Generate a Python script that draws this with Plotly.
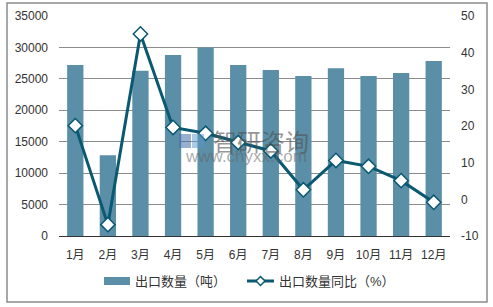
import plotly.graph_objects as go

months = ["1月", "2月", "3月", "4月", "5月", "6月", "7月", "8月", "9月", "10月", "11月", "12月"]
export_qty = [27200, 12850, 26300, 28800, 30000, 27200, 26400, 25450, 26700, 25450, 25950, 27850]
yoy_pct = [20.1, -6.9, 45.1, 19.6, 18.0, 15.5, 13.2, 2.6, 10.6, 9.0, 5.1, -0.8]

left_ticks = [0, 5000, 10000, 15000, 20000, 25000, 30000, 35000]
right_ticks = [-10, 0, 10, 20, 30, 40, 50]
bar_name = "出口数量（吨）"
line_name = "出口数量同比（%）"

bar_color = "#5b8fa7"
line_color = "#0a5872"
font_family = "Liberation Sans, Arial, Noto Sans CJK SC"

W, H = 493, 307
ML, MR, MT, MB = 59, 43, 16, 71
PW, PH = W - ML - MR, H - MT - MB


def px(x):
    return (x - ML) / PW


def py(y):
    return (H - MB - y) / PH


fig = go.Figure()
fig.add_trace(go.Bar(
    x=months, y=export_qty, name=bar_name,
    marker=dict(color=bar_color, line=dict(width=0)),
    width=0.5, yaxis="y", showlegend=False,
))
fig.add_trace(go.Scatter(
    x=months, y=yoy_pct, name=line_name, yaxis="y2",
    mode="lines+markers", showlegend=False,
    line=dict(color=line_color, width=3),
    marker=dict(symbol="diamond", size=11, color="white", line=dict(color=line_color, width=1.5)),
))

fig.update_layout(
    width=W, height=H,
    margin=dict(l=ML, r=MR, t=MT, b=MB),
    paper_bgcolor="white", plot_bgcolor="white",
    font=dict(family=font_family, size=12, color="#333333"),
    xaxis=dict(
        range=[-0.5, len(months) - 0.5],
        showgrid=False, showline=True, linecolor="#333333", linewidth=1,
        ticks="", tickfont=dict(size=12, color="#333333"), automargin=False,
        ticklabelstandoff=8,
    ),
    yaxis=dict(
        range=[0, 35000], tickvals=left_ticks, ticktext=[str(v) for v in left_ticks],
        showgrid=True, gridcolor="#8c8c8c", gridwidth=1, zeroline=False, showline=False,
        ticks="", tickfont=dict(size=12, color="#333333"), ticklabelstandoff=10,
        automargin=False,
    ),
    yaxis2=dict(
        range=[-10, 50], tickvals=right_ticks, ticktext=[str(v) for v in right_ticks],
        overlaying="y", side="right",
        showgrid=False, zeroline=False, showline=False, ticks="",
        tickfont=dict(size=12, color="#333333"), ticklabelstandoff=10, automargin=False,
    ),
    showlegend=False,
)

# outer frame
fig.add_shape(
    type="rect", xref="paper", yref="paper",
    x0=px(7), x1=px(487), y0=py(302), y1=py(3),
    line=dict(color="#8c8c8c", width=1.5), fillcolor="rgba(0,0,0,0)", layer="above",
)

# custom legend
fig.add_shape(type="rect", xref="paper", yref="paper",
              x0=px(104), x1=px(130), y0=py(285), y1=py(277),
              fillcolor=bar_color, line=dict(width=0))
fig.add_annotation(xref="paper", yref="paper", x=px(133), y=py(281), text=bar_name,
                   xanchor="left", yanchor="middle", showarrow=False,
                   font=dict(size=13, color="#333333"))
fig.add_shape(type="line", xref="paper", yref="paper",
              x0=px(247), x1=px(274), y0=py(281), y1=py(281),
              line=dict(color=line_color, width=3))
fig.add_shape(type="path", xref="paper", yref="paper",
              path=f"M {px(260.5)} {py(276.5)} L {px(265)} {py(281)} L {px(260.5)} {py(285.5)} L {px(256)} {py(281)} Z",
              fillcolor="white", line=dict(color=line_color, width=1.5))
fig.add_annotation(xref="paper", yref="paper", x=px(277), y=py(281), text=line_name,
                   xanchor="left", yanchor="middle", showarrow=False,
                   font=dict(size=13, color="#333333"))

# watermark
fig.add_shape(type="rect", xref="paper", yref="paper",
              x0=px(179), x1=px(191), y0=py(148), y1=py(134),
              fillcolor="rgba(70,110,170,0.55)", line=dict(width=0), layer="above")
fig.add_shape(type="rect", xref="paper", yref="paper",
              x0=px(192), x1=px(204), y0=py(148), y1=py(134),
              fillcolor="rgba(90,150,200,0.5)", line=dict(width=0), layer="above")
fig.add_annotation(
    xref="paper", yref="paper", x=px(261), y=py(140), text="智研咨询",
    showarrow=False, font=dict(size=24, color="rgba(80,80,80,0.6)", family="Noto Sans CJK SC"),
)
fig.add_annotation(
    xref="paper", yref="paper", x=px(246), y=py(168), text="www.chyxx.com",
    showarrow=False, font=dict(size=17, color="rgba(100,100,100,0.55)", family="Liberation Sans"),
)

fig.write_html("out.html")
